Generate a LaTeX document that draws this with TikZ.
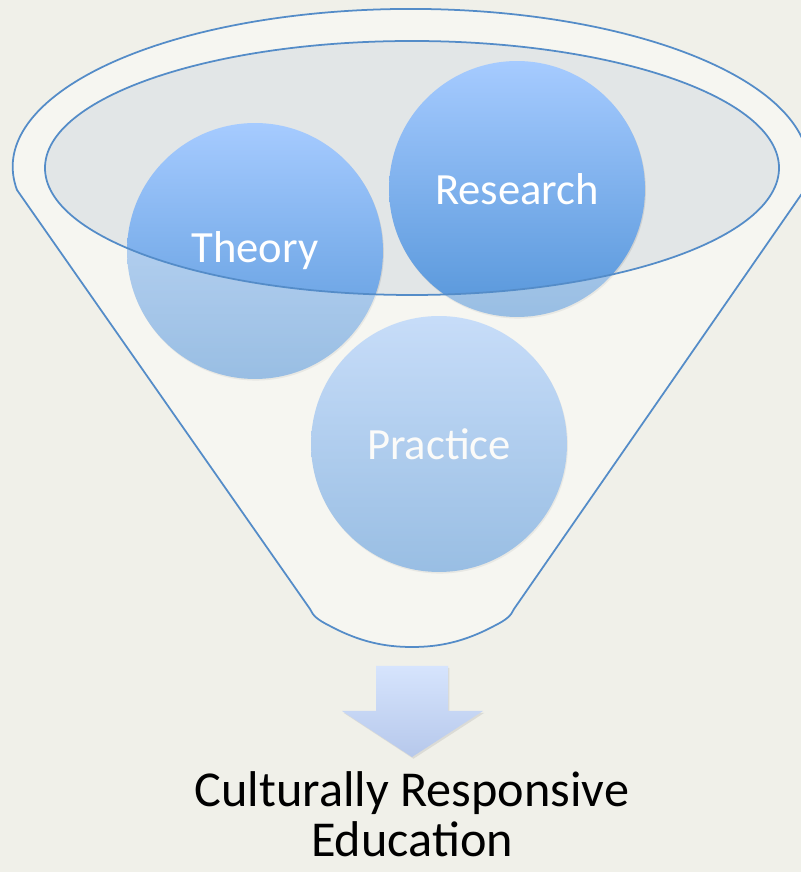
\documentclass[tikz,border=0pt]{standalone}
\usepackage{fontspec}
\setmainfont{Carlito}
\usetikzlibrary{shadows}
\definecolor{pagebg}{RGB}{240,240,233}
\definecolor{funnelfill}{RGB}{246,246,241}
\definecolor{mouthfill}{RGB}{226,230,231}
\definecolor{funnelline}{RGB}{84,140,200}
\definecolor{balltop}{RGB}{166,203,255}
\definecolor{ballbottom}{RGB}{86,150,218}
\definecolor{arrowtop}{RGB}{214,228,253}
\definecolor{arrowbottom}{RGB}{182,200,235}
\begin{document}
\begin{tikzpicture}
[
    x=0.02cm, y=0.02cm,
    ball/.style={circle, minimum size=5.12cm, inner sep=0pt, top color=balltop, bottom color=ballbottom,
        text=white, font=\fontsize{25.4}{30}\selectfont,
        drop shadow={shadow xshift=0.5pt, shadow yshift=-0.9pt, opacity=0.2}},
    rim/.style={draw=funnelline, line width=1pt},
]
\fill[pagebg] (0,0) rectangle (801,872);
\useasboundingbox (0,0) rectangle (801,872);
\clip (0,0) rectangle (801,872);
\def\funnelpath{(17,682) arc[start angle=188.4, end angle=-8.4, x radius=398, y radius=158]
    -- (514,263) .. controls (511,256) and (506,252) .. (494,246)
    .. controls (464,230) and (439,225) .. (412,225)
    .. controls (385,225) and (360,230) .. (330,246)
    .. controls (318,252) and (313,256) .. (310,263) -- cycle}
\def\mouthpath{(412,704) ellipse[x radius=367, y radius=127]}
% funnel body and opening
\fill[funnelfill] \funnelpath;
\fill[mouthfill] \mouthpath;
% the three inputs
\node[ball] (theory) at (255,621) {Theory};
\node[ball] (research) at (517,683) {Research};
\node[ball] (practice) at (439,428) {Practice};
% front of the funnel over the balls
\fill[funnelfill, fill opacity=0.42, even odd rule] \funnelpath \mouthpath;
\draw[rim] \funnelpath;
\draw[rim] \mouthpath;
% outflow
\shade[top color=arrowtop, bottom color=arrowbottom,
    drop shadow={shadow xshift=0.8pt, shadow yshift=-1pt, opacity=0.18}]
    (376,206) -- (448,206) -- (448,161) -- (483,161) -- (412,115) -- (342,161) -- (376,161) -- cycle;
\node[font=\fontsize{28.6}{29}\selectfont, align=center, anchor=base, inner sep=0pt] (outcome) at (412,15)
    {Culturally Responsive\\Education};
\end{tikzpicture}
\end{document}
